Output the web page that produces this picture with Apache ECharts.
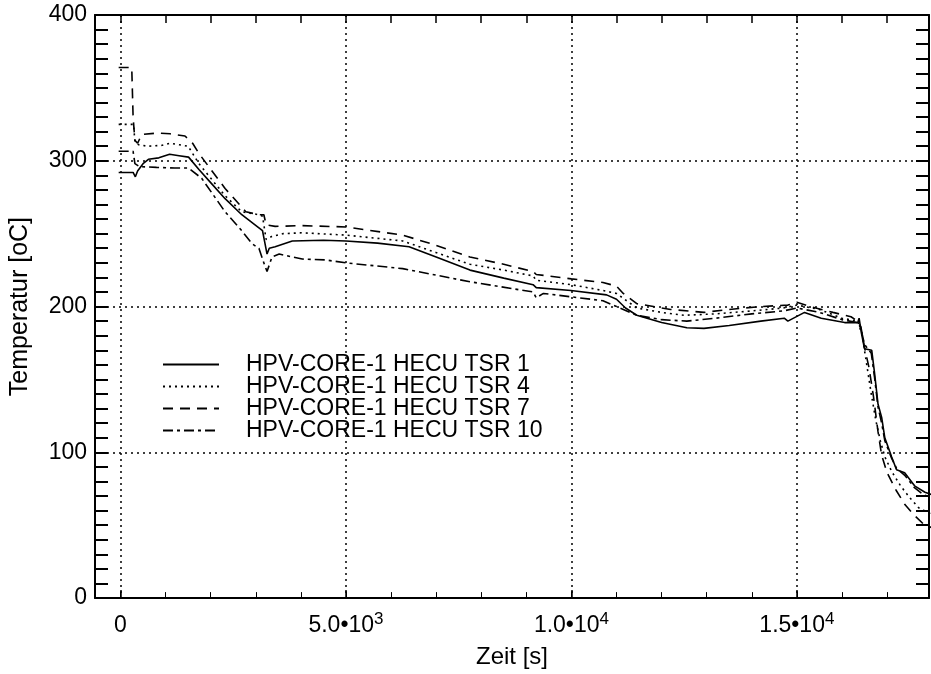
<!DOCTYPE html>
<html>
<head>
<meta charset="utf-8">
<script src="https://cdn.jsdelivr.net/npm/echarts@6/dist/echarts.min.js"></script>
<style>html,body{margin:0;padding:0;background:#fff}#c{width:931px;height:674px}</style>
</head>
<body>
<div id="c"></div>
<script>
// ---- data (time [s], temperature [oC]) ----
const seriesNames = ['HPV-CORE-1 HECU TSR 1', 'HPV-CORE-1 HECU TSR 4', 'HPV-CORE-1 HECU TSR 7', 'HPV-CORE-1 HECU TSR 10'];

const tsr1 = [[-40,292],[280,292],[330,289],[380,293],[500,298],[620,301],[850,302],[1090,304.5],[1300,303.5],[1510,302.5],[1740,294],[2000,285],[2320,274],[2690,263],[3070,254],[3150,252],[3200,244],[3250,236],[3300,240],[3430,241],[3810,245],[4500,245.5],[5000,245],[5700,243.5],[6400,241],[7000,234],[7750,225],[8500,219.5],[9150,215],[9220,213],[9990,211],[10780,208],[11000,205],[11200,199],[11450,194],[12000,189],[12560,185.5],[12940,185],[13500,187],[14200,190],[14720,192],[14800,190],[15170,196],[15540,192],[16060,189],[16350,189],[16380,192],[16430,182],[16500,171],[16660,170],[16720,155],[16800,133],[16880,124],[16950,110],[17100,97],[17210,88],[17390,86],[17610,77],[17840,72.6],[18080,70]];

const tsr4 = [[-40,325],[290,325],[320,313],[400,311],[600,310],[900,310.5],[1100,312],[1300,311],[1500,310],[1740,298],[2320,276],[2690,265],[3070,263],[3150,262],[3230,246],[3350,248],[3600,250],[4030,250.6],[5000,249],[6260,245],[7000,237],[7750,229],[8500,225],[9150,221],[9220,218],[10000,215],[10700,211],[11000,209],[11450,199],[12000,196],[12500,194],[13200,195],[14000,197],[14700,199],[15000,201],[15500,198],[16000,192],[16350,190],[16450,180],[16550,160],[16650,140],[16750,122],[16850,108],[16950,97],[17100,87],[17300,77],[17500,69],[17700,62],[18080,56]];

const tsr7 = [[-40,364],[250,364],[280,330],[320,314],[380,312],[470,318],[800,319],[1100,318.5],[1430,317],[1600,312],[1740,305],[2320,281],[2780,265],[3070,263],[3180,263],[3230,256],[3430,255],[4030,255.5],[5000,254.6],[6260,249],[7000,242],[7750,234],[8500,229],[9150,224],[9220,222],[10000,219],[10700,216.5],[11000,214],[11150,209],[11450,202],[12200,198],[12940,196],[13500,198],[14200,200],[14800,201],[15000,203],[15300,200],[15800,196],[16200,193],[16350,190],[16420,186],[16500,172],[16600,158],[16700,138],[16800,114],[16880,98],[17000,86],[17200,74],[17400,64],[17600,57],[17800,51],[18080,47]];

const tsr10 = [[-40,306.5],[280,306.5],[320,298],[420,296],[800,295.5],[1200,295],[1510,295],[1800,288],[2320,265],[2690,252],[2920,243],[3070,240],[3190,229],[3250,224],[3360,234],[3520,236],[4030,232.6],[4540,232],[4990,230],[6260,226],[7750,217],[9150,210],[9220,206],[9380,209],[10700,204],[11000,200],[11450,194],[12000,191],[12560,190],[13200,192],[14000,195],[14700,197],[15000,199],[15500,196],[16000,191],[16350,189],[16420,185],[16500,174],[16650,168],[16720,152],[16800,131],[16880,120],[16950,108],[17100,96],[17210,89],[17400,84],[17600,76],[17800,71],[18080,68]];

// ---- axes ----
const xMin = -565, xMax = 17930;
const yMin = 0, yMax = 400;
const xLabelValues = [0, 5000, 10000, 15000];
const xMinorValues = [0, 1000, 2000, 3000, 4000, 5000, 6000, 7000, 8000, 9000, 10000, 11000, 12000, 13000, 14000, 15000, 16000, 17000];

const FONT = '"Liberation Sans", Arial, Helvetica, sans-serif';

function xFmt(v) {
  if (v === 0) return '{b|0}';
  const e = Math.floor(Math.log10(v));
  const m = v / Math.pow(10, e);
  return '{b|' + m.toFixed(1) + '•10}{s|' + e + '}';
}

const chart = echarts.init(document.getElementById('c'), null, {renderer: 'canvas'});
const styles = [
  {type: 'solid', width: 1.6},
  {type: [2, 4], width: 1.6},
  {type: [10, 7], width: 1.6},
  {type: [10, 4, 3, 4], width: 1.6}
];
const datasets = [tsr1, tsr4, tsr7, tsr10];

const axisLineStyle = {color: '#000', width: 2};

chart.setOption({
  animation: false,
  backgroundColor: '#fff',
  textStyle: {fontFamily: FONT, color: '#000'},
  grid: {left: 93, right: 2, top: 15, bottom: 63, containLabel: false},
  legend: {
    orient: 'vertical', left: 157, top: 348,
    itemWidth: 56, itemHeight: 14, itemGap: -1,
    itemStyle: {opacity: 0},
    textStyle: {fontFamily: FONT, fontSize: 23, color: '#000', lineHeight: 22, padding: [0, 0, 0, 22]},
    data: seriesNames
  },
  xAxis: [
    {
      type: 'value', min: xMin, max: xMax, position: 'bottom',
      name: 'Zeit [s]', nameLocation: 'middle', nameGap: 40,
      nameTextStyle: {fontFamily: FONT, fontSize: 24, color: '#000'},
      axisLine: {show: true, onZero: false, lineStyle: axisLineStyle},
      axisTick: {show: true, inside: true, length: 8, customValues: xLabelValues, lineStyle: {color: '#000', width: 1.5}},
      axisLabel: {
        customValues: xLabelValues, margin: 13, formatter: xFmt, color: '#000',
        rich: {
          b: {fontFamily: FONT, fontSize: 23, color: '#000', verticalAlign: 'bottom', lineHeight: 26},
          s: {fontFamily: FONT, fontSize: 17, color: '#000', verticalAlign: 'top', lineHeight: 26, padding: [0, 0, 12, 0]}
        }
      },
      splitLine: {show: true, lineStyle: {color: '#000', type: [2, 4], width: 1.5}}
    },
    {
      type: 'value', min: xMin, max: xMax, position: 'bottom',
      axisLine: {show: false, onZero: false},
      axisTick: {show: true, inside: true, length: 6, customValues: xMinorValues, lineStyle: {color: '#000', width: 1}},
      axisLabel: {show: false},
      splitLine: {show: false}
    },
    {
      type: 'value', min: xMin, max: xMax, position: 'top',
      axisLine: {show: true, onZero: false, lineStyle: axisLineStyle},
      axisTick: {show: true, inside: true, length: 8, customValues: xMinorValues, lineStyle: {color: '#000', width: 1.5}},
      axisLabel: {show: false},
      splitLine: {show: false}
    }
  ],
  yAxis: [
    {
      type: 'value', min: yMin, max: yMax, interval: 100, position: 'left',
      name: 'Temperatur [oC]', nameLocation: 'middle', nameGap: 62, nameRotate: 90,
      nameTextStyle: {fontFamily: FONT, fontSize: 25, color: '#000'},
      axisLine: {show: true, onZero: false, lineStyle: axisLineStyle},
      axisTick: {show: true, inside: true, length: 13, lineStyle: {color: '#000', width: 2}},
      minorTick: {show: true, splitNumber: 10, length: 13, lineStyle: {color: '#000', width: 2}},
      axisLabel: {fontFamily: FONT, fontSize: 23, color: '#000', margin: 8},
      splitLine: {show: true, lineStyle: {color: '#000', type: [2, 4], width: 1.5}}
    },
    {
      type: 'value', min: yMin, max: yMax, interval: 100, position: 'right',
      axisLine: {show: true, onZero: false, lineStyle: axisLineStyle},
      axisTick: {show: true, inside: true, length: 13, lineStyle: {color: '#000', width: 2}},
      minorTick: {show: true, splitNumber: 10, length: 13, lineStyle: {color: '#000', width: 2}},
      axisLabel: {show: false},
      splitLine: {show: false}
    }
  ],
  series: datasets.map((d, i) => ({
    name: seriesNames[i], type: 'line', data: d, xAxisIndex: 0, yAxisIndex: 0,
    symbol: 'none', smooth: false, clip: true,
    lineStyle: Object.assign({color: '#000'}, styles[i]),
    itemStyle: {color: '#000'}
  }))
});
</script>
</body>
</html>
